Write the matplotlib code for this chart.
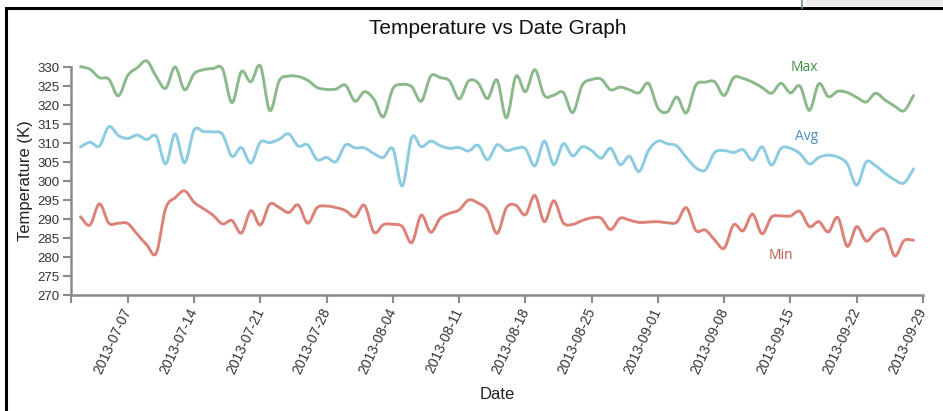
import numpy as np
import pandas as pd
import matplotlib
matplotlib.use("Agg")
import matplotlib.pyplot as plt
import matplotlib.dates as mdates
from matplotlib.path import Path
from matplotlib.patches import PathPatch, Rectangle
from matplotlib.lines import Line2D
from matplotlib.ticker import FixedLocator

# Daily temperatures (Kelvin), 2013-07-02 .. 2013-09-28
dates = pd.date_range("2013-07-02", "2013-09-28", freq="D")

max_temp = [
    330.1, 329.4, 327.2, 326.8, 322.4, 327.8, 329.8, 331.6, 327.5, 324.4,
    330.0, 324.0, 328.2, 329.3, 329.6, 329.5, 320.6, 328.8, 326.1, 330.3,
    318.5, 326.4, 327.6, 327.5, 326.5, 324.6, 324.1, 324.2, 325.2, 321.0,
    323.5, 321.5, 316.9, 324.3, 325.4, 324.8, 321.0, 327.6, 327.2, 326.3,
    321.6, 326.3, 325.8, 321.7, 326.6, 316.6, 327.6, 323.5, 329.3, 322.5,
    322.6, 323.3, 318.0, 325.2, 326.7, 326.8, 324.0, 324.7, 324.0, 323.2,
    325.7, 319.2, 318.2, 322.1, 317.9, 325.2, 326.0, 326.1, 322.5, 327.2,
    327.0, 326.0, 324.6, 323.1, 325.7, 323.2, 325.0, 318.6, 325.6, 322.2,
    323.6, 323.3, 322.0, 320.8, 323.1, 321.3, 319.7, 318.5, 322.5,
]

avg_temp = [
    308.9, 310.2, 309.2, 314.3, 312.0, 311.2, 312.1, 310.9, 311.8, 304.5,
    312.4, 304.8, 313.4, 313.0, 312.9, 312.3, 306.5, 308.8, 304.7, 310.2,
    310.1, 311.0, 312.4, 309.2, 309.5, 305.6, 306.2, 305.1, 309.5, 308.7,
    308.7, 307.2, 306.2, 308.5, 298.7, 311.5, 309.0, 310.5, 309.3, 308.6,
    308.8, 307.9, 309.4, 305.6, 309.5, 308.0, 308.6, 308.5, 304.0, 310.5,
    304.3, 309.8, 306.6, 309.0, 308.0, 306.0, 308.6, 304.3, 306.5, 302.5,
    308.0, 310.5, 309.8, 309.2, 306.2, 303.5, 302.9, 307.5, 308.0, 307.5,
    308.2, 305.5, 309.0, 304.2, 308.6, 308.6, 307.2, 304.5, 306.2, 306.8,
    306.3, 304.5, 298.9, 305.0, 304.0, 302.0, 300.3, 299.5, 303.2,
]

min_temp = [
    290.6, 288.4, 294.0, 288.9, 288.9, 288.8, 286.0, 283.2, 281.0, 292.8,
    295.6, 297.4, 294.4, 292.7, 291.0, 288.7, 289.6, 286.3, 292.2, 288.4,
    293.9, 293.0, 291.7, 293.7, 288.9, 293.0, 293.4, 293.0, 292.2, 290.6,
    293.6, 286.5, 288.5, 288.6, 288.0, 283.8, 291.0, 286.5, 290.2, 291.5,
    292.4, 295.0, 294.2, 292.2, 286.2, 293.0, 293.6, 291.1, 296.2, 289.3,
    294.8, 289.0, 288.6, 289.6, 290.3, 290.2, 287.2, 290.2, 289.7, 289.1,
    289.2, 289.3, 289.0, 289.2, 293.0, 287.0, 287.1, 284.5, 282.3, 288.5,
    286.9, 291.3, 286.1, 290.5, 290.8, 290.8, 292.0, 288.0, 289.3, 286.6,
    290.4, 282.8, 288.0, 284.2, 286.5, 287.0, 280.3, 284.3, 284.4,
]

series_names = ["Max", "Avg", "Min"]
line_colors = ["#8cb98c", "#8ccbe0", "#dc8279"]
label_colors = ["#3f8f3f", "#4a8cc4", "#c0554a"]
# label anchor (date, value) for each series name
label_dates = [pd.Timestamp("2013-09-16 10:00"), pd.Timestamp("2013-09-16 17:00"),
               pd.Timestamp("2013-09-14 00:00")]
label_values = [330.0, 311.6, 280.3]

week_ticks = pd.date_range("2013-07-07", "2013-09-29", freq="7D")
x_start, x_end = pd.Timestamp("2013-07-01"), pd.Timestamp("2013-09-29")
y_ticks = list(range(270, 331, 5))

plt.rcParams["font.family"] = ["Liberation Sans", "DejaVu Sans"]

W, H = 943, 411
fig = plt.figure(figsize=(W / 100, H / 100), dpi=100)
fig.patch.set_facecolor("white")
ax = fig.add_axes([71 / W, 1 - 295 / H, 852 / W, 228 / H])


def smooth_path(xv, yv):
    """Cardinal (Catmull-Rom) curve through the points as cubic Beziers."""
    pts = np.column_stack([xv, yv])
    ext = np.vstack([pts[0], pts, pts[-1]])
    verts = [pts[0]]
    codes = [Path.MOVETO]
    for i in range(len(pts) - 1):
        p0, p1, p2, p3 = ext[i], ext[i + 1], ext[i + 2], ext[i + 3]
        verts += [p1 + (p2 - p0) / 6.0, p2 - (p3 - p1) / 6.0, p2]
        codes += [Path.CURVE4] * 3
    return Path(verts, codes)


xnum = mdates.date2num(dates)
for vals, col in zip([max_temp, avg_temp, min_temp], line_colors):
    patch = PathPatch(smooth_path(xnum, np.asarray(vals, float)),
                      facecolor="none", edgecolor=col, lw=2.1,
                      joinstyle="round", capstyle="round", clip_on=False)
    ax.add_patch(patch)

for name, col, d, v in zip(series_names, label_colors, label_dates, label_values):
    ax.text(mdates.date2num(d), v, name, color=col, ha="center", va="center",
            fontsize=10, family=["Open Sans", "DejaVu Sans"], clip_on=False)

ax.set_xlim(mdates.date2num(x_start), mdates.date2num(x_end))
ax.set_ylim(270, 330)

ax.xaxis.set_major_locator(FixedLocator(mdates.date2num(week_ticks)))
ax.xaxis.set_major_formatter(mdates.DateFormatter("%Y-%m-%d"))
ax.xaxis.set_minor_locator(FixedLocator([mdates.date2num(x_start)]))
ax.yaxis.set_major_locator(FixedLocator(y_ticks))

axis_gray = "#8a8a8a"
for side in ["top", "right"]:
    ax.spines[side].set_visible(False)
for side in ["left", "bottom"]:
    ax.spines[side].set_color(axis_gray)
    ax.spines[side].set_linewidth(1.8)

ax.tick_params(axis="both", which="both", direction="out", length=6,
               width=1.5, color=axis_gray, labelcolor="#333333", labelsize=9.5)
ax.tick_params(axis="y", pad=2)
ax.tick_params(axis="x", pad=4, labelsize=10)
for lbl in ax.get_xticklabels():
    lbl.set_rotation(65)
    lbl.set_ha("right")
    lbl.set_va("center")
    lbl.set_rotation_mode("anchor")

ax.set_ylabel("Temperature (K)", fontsize=12, color="#222222", labelpad=3)
ax.set_xlabel("Date", fontsize=12, color="#222222")
ax.xaxis.set_label_coords(0.5, -0.405)

fig.text(498 / W, 1 - 28 / H, "Temperature vs Date Graph", ha="center",
         va="center", fontsize=15, color="#111111")

# window frame around the chart
fig.add_artist(Line2D([6 / W, 6 / W], [0, 1 - 8 / H], transform=fig.transFigure,
                      color="black", lw=2.2))
fig.add_artist(Line2D([6 / W, 1], [1 - 8 / H, 1 - 8 / H], transform=fig.transFigure,
                      color="black", lw=2.2))
fig.add_artist(Rectangle((806 / W, 1 - 6 / H), 1, 6 / H, transform=fig.transFigure,
                         facecolor="#ececec", edgecolor="none"))
fig.add_artist(Line2D([802 / W, 802 / W], [1 - 8 / H, 1], transform=fig.transFigure,
                      color="#7a8aa0", lw=1.2))

fig.savefig("out.png", dpi=100, facecolor="white")
